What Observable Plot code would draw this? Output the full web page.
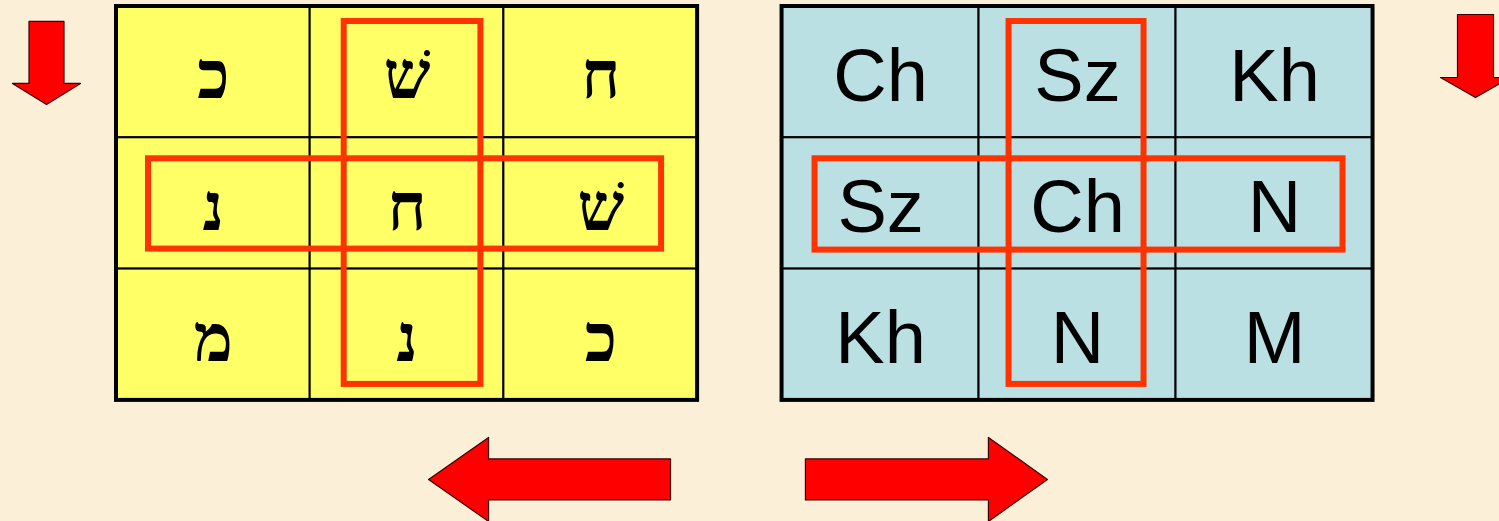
<!DOCTYPE html>
<html><head><meta charset="utf-8">
<script src="https://cdn.jsdelivr.net/npm/d3@7"></script>
<script src="https://cdn.jsdelivr.net/npm/@observablehq/plot@0.6"></script>
<style>html,body{margin:0;padding:0;background:#fbefd7;overflow:hidden;}</style>
</head><body><div id="chart"></div>
<script>
// ---------- DATA ----------
const hebrewLetters = [
  ["כ", "שׁ", "ח"],
  ["נ", "ח", "שׁ"],
  ["מ", "נ", "כ"]
];
const latinLetters = [
  ["Ch", "Sz", "Kh"],
  ["Sz", "Ch", "N"],
  ["Kh", "N", "M"]
];
const highlightColumn = 1;   // the middle column is framed
const highlightRow = 1;      // the middle row is framed
const arrowDirections = ["down", "down", "left", "right"];

// ---------- LAYOUT (grid units: 1 = one cell) ----------
const W = 1499, H = 521;
const unitX = 193.7, unitY = 131.3, originX = 116, originY = 6;
const grids = [
  {id: "hebrew", x0: 0, cw: 1, fill: "#ffff66", letters: hebrewLetters,
   font: "'Liberation Serif','DejaVu Serif',serif", size: 66, weight: "bold", dy: 5,
   vIn: [34, 23, 15, 16], hIn: [32, 36, 21, 20]},
  {id: "latin", x0: 3.436, cw: 1.017, fill: "#bbe0e3", letters: latinLetters,
   font: "'Liberation Sans',Arial,sans-serif", size: 74, weight: "normal", dy: 5,
   vIn: [30, 32, 15, 16], hIn: [33, 30, 21, 19]}
];
// arrow tips (grid units) and sizes (px)
const arrowSpecs = [
  {tx: -0.3614, ty: 0.746, len: 83, shaft: 35, head: 68, headL: 21},
  {tx: 7.016, ty: 0.693, len: 83, shaft: 36, head: 70, headL: 20},
  {tx: 1.611, ty: 3.602, len: 242, shaft: 41, head: 84, headL: 60},
  {tx: 4.806, ty: 3.602, len: 242, shaft: 41, head: 84, headL: 59}
];

const cells = grids.flatMap(g => g.letters.flatMap((row, r) => row.map((t, c) => ({g, r, c, t}))));

function arrowPolygon(spec, dir, id) {
  const sx = 1 / unitX, sy = 1 / unitY;
  const local = [
    [0, 0], [spec.headL, -spec.head / 2], [spec.headL, -spec.shaft / 2],
    [spec.len, -spec.shaft / 2], [spec.len, spec.shaft / 2],
    [spec.headL, spec.shaft / 2], [spec.headL, spec.head / 2]
  ];
  return local.map(([a, b]) => {
    let dx, dy;
    if (dir === "down") { dx = b; dy = -a; }
    else if (dir === "left") { dx = a; dy = b; }
    else { dx = -a; dy = b; }
    return {id, x: spec.tx + dx * sx, y: spec.ty + dy * sy};
  });
}
const arrowPts = arrowSpecs.flatMap((s, i) => arrowPolygon(s, arrowDirections[i], i));

const marks = [];
for (const g of grids) {
  const gc = cells.filter(d => d.g === g);
  marks.push(Plot.rect(gc, {
    x1: d => g.x0 + d.c * g.cw, x2: d => g.x0 + (d.c + 1) * g.cw,
    y1: d => d.r, y2: d => d.r + 1,
    fill: g.fill, stroke: "#000", strokeWidth: 2
  }));
  marks.push(Plot.rect([g], {
    x1: g.x0, x2: g.x0 + 3 * g.cw, y1: 0, y2: 3,
    fill: "none", stroke: "#000", strokeWidth: 4
  }));
  marks.push(Plot.text(gc, {
    x: d => g.x0 + (d.c + 0.5) * g.cw, y: d => d.r + 0.5, text: "t",
    fontFamily: g.font, fontSize: g.size, fontWeight: g.weight,
    fill: "#000", dy: g.dy, textAnchor: "middle"
  }));
  marks.push(Plot.rect([g], {
    x1: g.x0 + highlightColumn * g.cw, x2: g.x0 + (highlightColumn + 1) * g.cw, y1: 0, y2: 3,
    insetLeft: g.vIn[0], insetRight: g.vIn[1], insetTop: g.vIn[2], insetBottom: g.vIn[3],
    fill: "none", stroke: "#ff3300", strokeWidth: 6
  }));
  marks.push(Plot.rect([g], {
    x1: g.x0, x2: g.x0 + 3 * g.cw, y1: highlightRow, y2: highlightRow + 1,
    insetLeft: g.hIn[0], insetRight: g.hIn[1], insetTop: g.hIn[2], insetBottom: g.hIn[3],
    fill: "none", stroke: "#ff3300", strokeWidth: 6
  }));
}
marks.push(Plot.line(arrowPts, {
  x: "x", y: "y", z: "id", curve: "linear-closed",
  fill: "#ff0000", stroke: "#3a0000", strokeWidth: 1.2
}));

const chart = Plot.plot({
  width: W, height: H, margin: 0,
  x: {domain: [-originX / unitX, (W - originX) / unitX], range: [0, W], axis: null},
  y: {domain: [-originY / unitY, (H - originY) / unitY], range: [0, H], axis: null},
  style: {background: "#fbefd7", overflow: "visible"},
  marks
});
document.getElementById("chart").append(chart);
</script>
</body></html>
